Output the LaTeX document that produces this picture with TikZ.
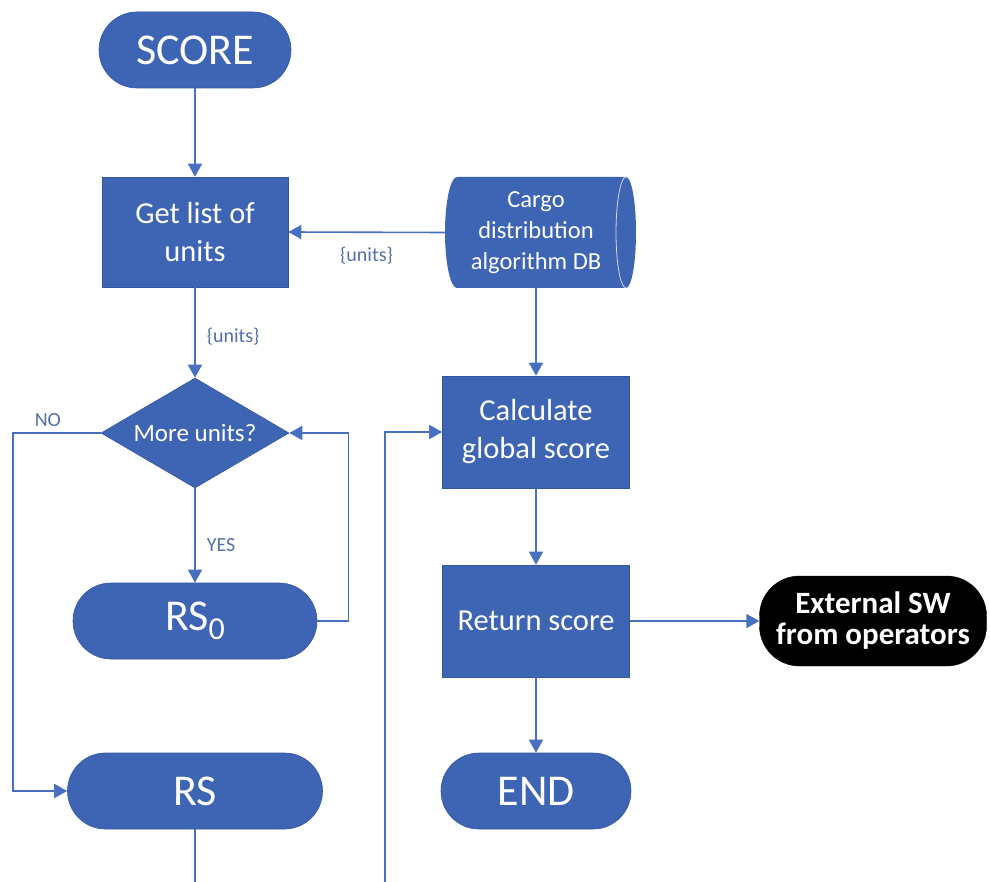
\documentclass[tikz,border=0pt]{standalone}
\usepackage{fontspec}
\setmainfont{Carlito}
\usetikzlibrary{arrows.meta,shapes.geometric}

\definecolor{flowfill}{RGB}{62,100,180}
\definecolor{flowedge}{RGB}{52,86,160}
\definecolor{flowline}{RGB}{72,112,192}
\definecolor{flowlabel}{RGB}{84,112,168}

\tikzset{
  base/.style={fill=flowfill, draw=flowedge, line width=0.6pt, text=white,
    inner sep=0pt, align=center},
  term/.style={base, rectangle, rounded corners=38pt, minimum height=76pt,
    font=\fontsize{44}{48}\selectfont},
  proc/.style={base, rectangle, minimum height=112pt, minimum width=187pt,
    font=\fontsize{30.5}{38}\selectfont},
  decide/.style={base, diamond, aspect=1.71, minimum width=188pt,
    minimum height=110pt, font=\fontsize{25}{30}\selectfont},
  extsw/.style={fill=black, draw=black, text=white, rectangle,
    rounded corners=40pt, minimum width=227pt, minimum height=90pt,
    inner sep=0pt, align=center, font=\bfseries\fontsize{31}{31}\selectfont},
  lbl/.style={text=flowlabel, inner sep=1pt, font=\fontsize{20}{22}\selectfont},
  arr/.style={draw=flowline, line width=1.6pt,
    -{Triangle[length=13pt,width=14pt]}},
}

\begin{document}
\begin{tikzpicture}[x=1pt, y=-1pt]
  \useasboundingbox (0,0) rectangle (990,882);
  \clip (0,0) rectangle (990,882);

  % database cylinder (horizontal), drawn as a path
  \fill[flowfill]
    (457,177) -- (626,177)
    .. controls (631.5,177) and (636,202) .. (636,232.5)
    .. controls (636,263) and (631.5,288) .. (626,288)
    -- (457,288)
    .. controls (450.4,288) and (445,263) .. (445,232.5)
    .. controls (445,202) and (450.4,177) .. (457,177) -- cycle;
  \draw[white!75!flowfill, line width=0.8pt]
    (626,177) .. controls (620.5,177) and (616,202) .. (616,232.5)
    .. controls (616,263) and (620.5,288) .. (626,288);
  \node[inner sep=0pt, minimum width=182pt, minimum height=111pt,
        text=white, align=center, font=\fontsize{24.5}{31}\selectfont]
    (db) at (536,232.5) {Cargo\\distribution\\algorithm DB};

  % flow nodes
  \node[term, minimum width=192pt] (score) at (195,50) {SCORE};
  \node[proc, minimum width=186pt, minimum height=110pt] (getlist) at (195,232) {Get list of\\units};
  \node[decide] (more) at (195,433) {More units?};
  \node[term, minimum width=244pt] (rs0) at (195,621)
    {RS\raisebox{-9pt}{\fontsize{32}{32}\selectfont 0}};
  \node[term, minimum width=255pt] (rs) at (195,791) {RS};
  \node[proc] (calc) at (536,432) {Calculate\\global score};
  \node[proc] (ret) at (536,621) {Return score};
  \node[term, minimum width=190pt] (end) at (536,791) {END};
  \node[extsw] (ext) at (873,621) {External SW\\from operators};

  % connectors
  \draw[arr] (score) -- (getlist);
  \draw[arr] (db.west) -- node[lbl, below=13pt] {\{units\}} (getlist.east);
  \draw[arr] (getlist) -- node[lbl, right=10pt, pos=0.55] {\{units\}} (more);
  \draw[arr] (more.west) -- node[lbl, above=5pt, pos=0.6] {NO} ++(-88,0) |- (rs.west);
  \draw[arr] (more.south) -- node[lbl, right=10pt, pos=0.6] {YES} (rs0.north);
  \draw[arr] (rs0.east) -- ++(31,0) |- (more.east);
  \draw[arr] (rs.south) -- ++(0,71) -- ++(190,0) |- (calc.west);
  \draw[arr] (db.south) -- (calc.north);
  \draw[arr] (calc) -- (ret);
  \draw[arr] (ret) -- (end);
  \draw[arr] (ret) -- (ext);
\end{tikzpicture}
\end{document}
